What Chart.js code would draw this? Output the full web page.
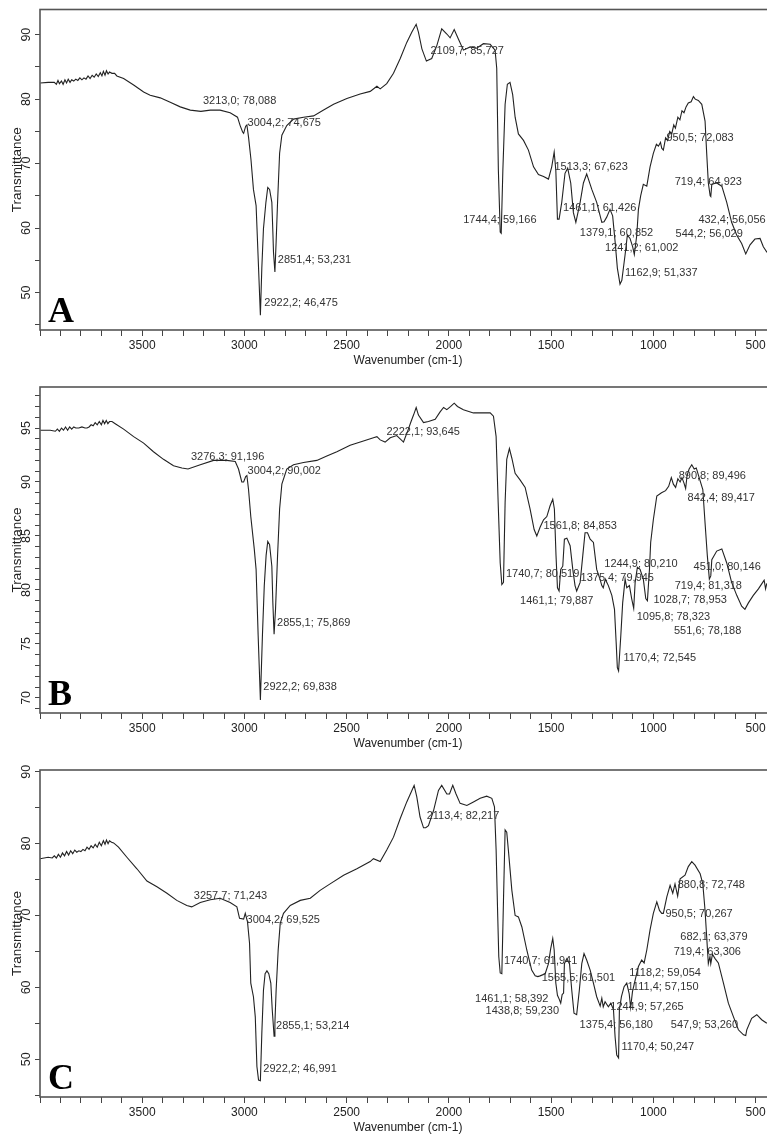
<!DOCTYPE html>
<html><head><meta charset="utf-8">
<script src="https://cdn.jsdelivr.net/npm/chart.js@4.4.0/dist/chart.umd.min.js"></script>
<style>
html,body{margin:0;padding:0;background:#fff;overflow:hidden;width:767px;height:1137px;position:relative;}
.panel{position:absolute;left:0;}
canvas{display:block;}
</style></head><body>
<div class="panel" style="top:0px"><canvas id="cA" width="790" height="370"></canvas></div>
<div class="panel" style="top:370px"><canvas id="cB" width="790" height="383"></canvas></div>
<div class="panel" style="top:753px"><canvas id="cC" width="790" height="384"></canvas></div>
<script>
// ---------- Spectrum A ----------
const wnA = [3999,3960,3930,3920,3912,3905,3895,3887,3878,3870,3862,3853,3845,3835,3825,3815,3805,3795,3785,3775,3765,3755,3745,3735,3725,3715,3705,3697,3690,3682,3675,3667,3660,3648,3635,3624,3591,3542,3493,3461,3412,3363,3314,3265,3213,3167,3119,3070,3034,3021,3009,3004,2994,2988,2980,2968,2956,2943,2931,2922,2915,2907,2895,2886,2877,2866,2861,2858,2851,2845,2838,2828,2817,2793,2760,2711,2662,2613,2564,2499,2434,2385,2352,2336,2304,2271,2238,2206,2181,2160,2149,2132,2110,2084,2059,2035,2010,1994,1974,1953,1929,1896,1864,1831,1798,1774,1766,1758,1749,1744,1736,1725,1714,1701,1688,1676,1660,1635,1611,1586,1562,1537,1513,1497,1485,1477,1469,1461,1448,1432,1419,1404,1391,1379,1358,1342,1326,1301,1277,1252,1241,1228,1212,1199,1187,1176,1163,1154,1138,1127,1114,1101,1093,1081,1073,1062,1049,1032,1016,1000,985,975,965,959,951,940,930,920,910,900,892,880,870,860,850,840,829,815,804,795,780,763,747,739,731,722,719,714,690,665,641,617,592,568,548,527,503,478,462,445,432];
const tA  = [82.5,82.6,82.6,82.3,82.9,82.4,82.8,82.3,83.0,82.5,83.1,82.6,83.0,82.8,83.1,82.9,83.3,83.0,83.3,83.1,83.6,83.2,83.7,83.4,83.9,83.5,84.1,83.6,84.3,83.7,84.4,83.9,84.2,84.0,84.0,83.6,83.2,82.2,81.1,80.6,80.2,79.5,78.8,78.3,78.1,78.3,78.3,77.9,77.2,75.9,74.9,74.7,75.8,76.0,74.1,70.6,66.0,63.5,53.8,46.5,53.8,59.9,64.0,66.3,66.0,64.0,59.4,56.3,53.2,57.9,64.0,71.6,74.4,75.9,76.9,77.2,77.4,78.3,79.2,80.1,80.8,81.2,82.0,81.6,82.4,84.0,86.3,88.8,90.4,91.6,90.4,87.8,85.9,86.3,88.3,90.9,90.1,89.5,90.8,89.3,87.6,88.1,87.9,88.6,88.5,87.6,84.8,69.0,59.4,59.2,69.0,79.2,82.3,82.6,80.7,77.2,74.6,73.6,72.1,69.5,68.3,68.0,67.6,69.5,71.8,69.0,61.4,61.4,64.0,68.5,69.3,67.0,62.4,60.9,64.0,67.0,68.4,66.0,64.0,60.9,61.0,61.7,62.9,61.9,57.9,53.8,51.3,51.9,55.9,58.9,58.4,57.1,55.9,58.9,62.9,65.0,66.8,66.5,69.5,71.6,73.0,72.7,73.3,72.4,72.1,74.0,73.6,75.0,74.6,76.0,75.5,77.2,76.8,78.2,77.9,78.8,79.4,79.6,80.4,80.0,79.8,79.2,76.6,71.6,67.0,65.0,64.9,66.8,67.0,66.5,64.0,60.9,58.9,57.6,56.0,57.4,58.3,58.4,57.1,56.3,56.1];
const peakWnA = [3213.0,3004.2,2922.2,2851.4,2109.7,1744.4,1513.3,1461.1,1379.1,1241.2,1162.9,950.5,719.4,544.2,432.4];
const peakTA  = [78.088,74.675,46.475,53.231,85.727,59.166,67.623,61.426,60.852,61.002,51.337,72.083,64.923,56.029,56.056];

// ---------- Spectrum B ----------
const wnB = [3999,3950,3925,3915,3905,3895,3885,3875,3865,3855,3845,3835,3825,3810,3795,3780,3770,3760,3750,3740,3730,3720,3710,3700,3692,3684,3676,3668,3660,3648,3632,3591,3542,3493,3445,3396,3347,3306,3276,3216,3151,3086,3045,3029,3013,3004,2994,2988,2980,2969,2952,2943,2933,2922,2912,2903,2894,2886,2877,2866,2861,2855,2848,2838,2828,2817,2793,2760,2711,2646,2597,2548,2483,2418,2369,2352,2336,2312,2287,2255,2222,2200,2185,2173,2160,2149,2124,2100,2067,2043,2026,2010,1991,1974,1958,1929,1880,1831,1798,1782,1769,1759,1749,1741,1733,1725,1717,1704,1692,1676,1652,1627,1603,1583,1570,1554,1537,1521,1505,1492,1484,1476,1469,1461,1453,1443,1435,1423,1407,1394,1383,1375,1358,1345,1334,1322,1309,1293,1277,1261,1252,1245,1235,1220,1203,1190,1182,1176,1170,1159,1150,1138,1130,1117,1106,1096,1089,1078,1065,1049,1037,1029,1019,1013,1000,983,960,940,925,912,902,891,880,869,860,850,842,835,825,812,800,790,771,758,747,736,726,719,714,690,665,641,617,592,568,552,535,511,486,465,458,451,445];
const tB  = [94.8,94.8,94.7,94.9,94.7,95.0,94.8,95.1,94.8,95.1,94.9,95.1,95.0,95.0,95.1,95.0,95.0,95.1,95.3,95.2,95.5,95.3,95.6,95.3,95.7,95.4,95.7,95.4,95.6,95.6,95.4,94.9,94.2,93.6,92.8,92.1,91.5,91.3,91.2,91.6,92.0,92.0,91.9,91.2,90.0,90.0,90.5,90.6,89.3,86.8,83.8,81.9,75.8,69.8,75.8,80.4,83.2,84.5,84.2,82.2,78.8,75.9,78.2,83.2,87.5,89.8,91.2,91.6,91.8,92.0,92.4,92.8,93.4,93.8,94.1,94.2,93.9,93.7,94.1,94.3,93.7,94.8,95.6,96.2,96.9,96.2,95.5,95.6,95.8,96.5,96.9,96.7,97.0,97.3,97.0,96.7,96.4,96.4,96.4,96.1,94.2,88.1,82.5,80.5,80.7,88.1,92.1,93.1,92.2,90.8,90.2,89.5,87.5,85.6,85.0,85.8,86.5,86.8,87.8,88.4,87.5,83.2,80.2,79.9,81.9,82.2,84.7,84.8,84.1,81.9,80.4,79.9,80.7,83.2,85.3,85.3,84.7,84.4,81.9,81.0,80.4,80.2,81.0,80.4,79.5,78.2,75.2,72.8,72.5,75.8,78.8,81.0,80.2,80.4,79.2,78.3,80.7,82.1,81.9,81.0,79.2,79.0,81.9,84.4,86.5,88.7,89.0,89.2,89.6,90.4,89.8,89.5,90.3,90.0,90.4,89.9,89.4,90.6,91.2,91.6,91.2,91.3,90.1,89.3,86.2,83.2,81.0,81.3,82.8,83.6,83.8,82.5,80.7,79.5,78.5,78.2,78.8,79.5,80.1,80.7,80.9,80.1,80.6];
const peakWnB = [3276.3,3004.2,2922.2,2855.1,2222.1,1740.7,1561.8,1461.1,1375.4,1244.9,1170.4,1095.8,1028.7,890.8,842.4,719.4,451.0,551.6];
const peakTB  = [91.196,90.002,69.838,75.869,93.645,80.519,84.853,79.887,79.945,80.210,72.545,78.323,78.953,89.496,89.417,81.318,80.146,78.188];

// ---------- Spectrum C ----------
const wnC = [4000,3960,3940,3930,3920,3910,3900,3890,3880,3870,3860,3850,3840,3830,3820,3810,3800,3790,3780,3770,3760,3750,3740,3730,3720,3710,3700,3690,3682,3675,3667,3660,3650,3640,3616,3575,3526,3477,3428,3379,3331,3282,3258,3216,3167,3119,3070,3037,3024,3004,2996,2985,2975,2969,2956,2947,2939,2931,2922,2915,2907,2899,2890,2881,2871,2864,2855,2851,2845,2835,2825,2809,2776,2727,2678,2630,2581,2515,2450,2385,2369,2336,2304,2271,2238,2206,2181,2170,2157,2141,2124,2113,2100,2075,2051,2035,2010,1997,1981,1965,1945,1912,1880,1847,1815,1790,1777,1769,1761,1756,1749,1741,1733,1725,1717,1709,1692,1676,1660,1643,1619,1595,1578,1565,1554,1529,1513,1502,1492,1485,1477,1469,1461,1453,1446,1439,1435,1423,1410,1399,1388,1375,1362,1350,1339,1326,1309,1293,1277,1260,1252,1245,1236,1220,1208,1195,1187,1179,1170,1166,1156,1143,1130,1118,1111,1102,1089,1073,1057,1045,1032,1016,1000,983,970,959,951,934,918,905,894,881,869,845,829,812,796,771,758,747,739,731,723,719,711,698,682,657,633,608,584,559,548,543,519,494,470,445];
const tC  = [77.9,78.1,78.0,78.3,78.0,78.5,78.1,78.7,78.3,78.9,78.4,79.0,78.6,79.1,78.8,79.0,78.9,79.2,79.0,79.5,79.2,79.7,79.4,79.9,79.5,80.2,79.7,80.4,79.9,80.5,80.0,80.4,80.2,80.1,79.5,78.1,76.5,74.8,74.0,73.1,72.1,71.4,71.2,71.8,72.2,72.4,71.8,71.2,69.6,69.5,70.3,69.1,66.1,60.6,58.7,55.9,49.0,47.1,47.0,53.6,59.6,61.9,62.3,61.9,60.6,56.9,53.2,55.0,59.6,65.2,68.9,70.3,71.4,72.1,72.4,73.5,74.4,75.6,76.5,77.5,77.9,77.5,79.1,80.9,83.5,85.8,87.4,88.1,86.5,83.7,82.2,82.2,82.5,84.6,87.4,88.1,86.9,86.9,88.1,86.9,85.6,85.3,85.8,86.3,86.6,86.3,85.1,79.1,69.8,64.3,62.0,61.9,72.1,81.9,81.6,79.1,73.5,70.0,69.8,68.4,65.2,62.4,61.6,61.5,61.6,61.9,63.3,65.4,66.8,65.2,60.6,58.9,58.4,57.8,59.0,59.2,63.3,64.0,63.3,59.6,56.4,56.2,59.6,63.3,64.7,63.8,62.4,60.6,58.7,57.4,58.5,57.3,58.0,57.3,57.8,56.9,53.1,50.6,50.2,56.9,58.7,60.1,60.6,59.1,57.2,59.4,61.0,62.9,63.8,63.4,65.2,68.0,70.3,71.9,70.7,70.3,70.3,72.6,74.2,73.1,74.4,72.7,75.1,75.6,76.8,77.5,77.0,75.8,74.4,70.7,67.0,63.3,64.3,63.3,64.6,64.0,63.4,60.6,57.8,55.9,54.1,53.4,53.3,54.1,55.7,56.2,55.5,55.0];
const peakWnC = [3257.7,3004.2,2855.1,2922.2,2113.4,1740.7,1565.5,1461.1,1438.8,1375.4,1244.9,1170.4,1118.2,1111.4,950.5,880.8,682.1,719.4,547.9];
const peakTC  = [71.243,69.525,53.214,46.991,82.217,61.941,61.501,58.392,59.230,56.180,57.265,50.247,59.054,57.150,70.267,72.748,63.379,63.306,53.260];

// x-axis tick labels
const xTickLabels = [3500,3000,2500,2000,1500,1000,500];

// ---------- layout (pixel offsets of peak labels) ----------
const offA = [[2,-10],[4,-11],[4,-12],[3,-12],[4,-11],[-38,-14],[6,-12],[4,-11],[4,10],[1,26],[5,-11],[3,-12],[-36,-14],[-71,-20],[-71,-34]];
const offB = [[3,-12],[4,-11],[3,-13],[3,-12],[-17,-11],[4,-10],[5,-12],[-39,10],[4,-13],[1,-24],[5,-12],[3,9],[6,-1],[3,-11],[2,10],[-36,10],[-72,-21],[-71,21]];
const offC = [[2,-11],[3,1],[2,-10],[3,-12],[1,-12],[2,-12],[4,1],[-84,0],[-78,18],[3,10],[7,0],[3,-11],[0,-21],[-3,-21],[2,0],[0,-11],[-38,-26],[-37,-12],[-75,-11]];

const FAM = '"Liberation Sans", Arial, sans-serif';
function fmt(v, d){ return v.toFixed(d).replace('.', ','); }

function overlay(peakWn, peakT, offs, letter){
  return {
    id: 'overlay',
    afterDatasetsDraw(chart){
      const ctx = chart.ctx, a = chart.chartArea;
      const xs = chart.scales.x, ys = chart.scales.y;
      ctx.save();
      ctx.strokeStyle = '#555'; ctx.lineWidth = 1.6;
      ctx.strokeRect(a.left, a.top, a.right - a.left, a.bottom - a.top);
      ctx.font = '11px ' + FAM;
      ctx.fillStyle = '#333'; ctx.textBaseline = 'middle'; ctx.textAlign = 'left';
      peakWn.forEach((w, i) => {
        const px = xs.getPixelForValue(w), py = ys.getPixelForValue(peakT[i]);
        ctx.fillText(fmt(w,1) + '; ' + fmt(peakT[i],3), px + offs[i][0], py + offs[i][1]);
      });
      ctx.font = 'bold 36px "Liberation Serif", "Times New Roman", serif';
      ctx.fillStyle = '#000'; ctx.textBaseline = 'alphabetic';
      ctx.fillText(letter, a.left + 8, a.bottom - 8);
      ctx.restore();
    }
  };
}

function makeChart(id, wn, t, yMin, yMax, yStep, yLabelStep, padTop, peakWn, peakT, offs, letter){
  const pts = wn.map((w, i) => ({x: w, y: t[i]}));
  new Chart(document.getElementById(id), {
    type: 'line',
    data: { datasets: [{ data: pts, borderColor: '#222', borderWidth: 1.1, pointRadius: 0, tension: 0, fill: false }] },
    options: {
      responsive: false, animation: false, devicePixelRatio: 1,
      layout: { padding: { top: padTop, right: 14, left: 0, bottom: 0 } },
      plugins: { legend: { display: false }, tooltip: { enabled: false } },
      scales: {
        x: {
          type: 'linear', reverse: true, min: 400, max: 4000,
          ticks: { stepSize: 100, autoSkip: false, maxRotation: 0, minRotation: 0, includeBounds: false, padding: 2,
                   color: '#222', font: { size: 12, family: FAM },
                   callback: v => xTickLabels.includes(v) ? String(v) : '' },
          grid: { drawOnChartArea: false, tickLength: 6, color: '#444', lineWidth: 1 },
          border: { display: false },
          title: { display: true, text: 'Wavenumber (cm-1)', color: '#222', font: { size: 12, family: FAM }, padding: { top: 0, bottom: 2 } },
          afterFit(s){ s.height = 40; }
        },
        y: {
          type: 'linear', min: yMin, max: yMax, position: 'left',
          ticks: { stepSize: yStep, autoSkip: false, includeBounds: false, minRotation: 90, maxRotation: 90, crossAlign: 'center', padding: 2,
                   color: '#222', font: { size: 12.5, family: FAM },
                   callback: v => (Math.abs(v % yLabelStep) < 1e-6) ? String(v) : '' },
          grid: { drawOnChartArea: false, tickLength: 5, color: '#444', lineWidth: 1 },
          border: { display: false },
          title: { display: true, text: 'Transmittance', color: '#222', font: { size: 13.5, family: FAM }, padding: { top: 9, bottom: 0 } },
          afterFit(s){ s.width = 40; }
        }
      }
    },
    plugins: [overlay(peakWn, peakT, offs, letter)]
  });
}

makeChart('cA', wnA, tA, 44.2, 93.9, 5, 10, 3, peakWnA, peakTA, offA, 'A');
makeChart('cB', wnB, tB, 68.6, 98.8, 1, 5, 17, peakWnB, peakTB, offB, 'B');
makeChart('cC', wnC, tC, 44.75, 90.24, 5, 10, 17, peakWnC, peakTC, offC, 'C');
</script>
</body></html>
